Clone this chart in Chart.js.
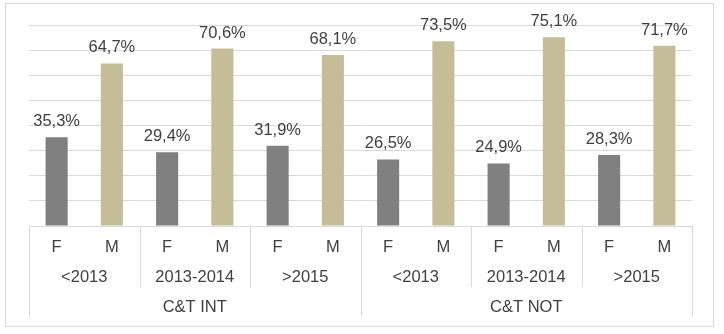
<!DOCTYPE html>
<html>
<head>
<meta charset="utf-8">
<script src="https://cdn.jsdelivr.net/npm/chart.js@4/dist/chart.umd.min.js"></script>
<style>
  html, body { margin: 0; padding: 0; background: #fff; }
  #wrap { width: 724px; height: 334px; }
</style>
</head>
<body>
<div id="wrap"><canvas id="chart" width="724" height="334"></canvas></div>
<script>
// data
var groups = ['C&T INT', 'C&T NOT'];
var periods = ['<2013', '2013-2014', '>2015', '<2013', '2013-2014', '>2015'];
var sexes = ['F', 'M'];
var fValues = [35.3, 29.4, 31.9, 26.5, 24.9, 28.3];
var mValues = [64.7, 70.6, 68.1, 73.5, 75.1, 71.7];
var yTicks = [0, 10, 20, 30, 40, 50, 60, 70, 80];

var fColor = '#808080';
var mColor = '#C4BD97';
var lineColor = '#D9D9D9';
var textColor = '#404040';
var fontFamily = '"Liberation Sans", Arial, sans-serif';
var fontSize = 16.5;

// one category per bar: F and M for each period
var labels = [];
var values = [];
var colors = [];
periods.forEach(function(p, i) {
    labels.push(sexes[0]); values.push(fValues[i]); colors.push(fColor);
    labels.push(sexes[1]); values.push(mValues[i]); colors.push(mColor);
});

var fmt = function(v) {
    return v.toFixed(1).replace('.', ',') + '%';
};

var decorPlugin = {
    id: 'decor',
    beforeDraw: function(chart) {
        var ctx = chart.ctx;
        ctx.save();
        ctx.strokeStyle = lineColor;
        ctx.lineWidth = 1;
        ctx.strokeRect(5.5, 3.5, 708, 323);
        ctx.restore();
    },
    afterDatasetsDraw: function(chart) {
        var ctx = chart.ctx;
        var x = chart.scales.x;
        var area = chart.chartArea;
        var n = labels.length;
        var half = (x.getPixelForValue(1) - x.getPixelForValue(0)) / 2;
        var edge = function(i) {
            // left edge of category i
            return x.getPixelForValue(i) - half;
        };

        ctx.save();
        ctx.font = fontSize + 'px ' + fontFamily;
        ctx.fillStyle = textColor;
        ctx.textAlign = 'center';
        ctx.textBaseline = 'alphabetic';

        // value labels above bars
        var meta = chart.getDatasetMeta(0);
        meta.data.forEach(function(bar, i) {
            ctx.fillText(fmt(values[i]), bar.x, bar.y - 11);
        });

        // F / M row
        labels.forEach(function(l, i) {
            ctx.fillText(l, x.getPixelForValue(i), 252);
        });

        // period row
        periods.forEach(function(p, i) {
            var c = (edge(i * 2) + edge(i * 2 + 2)) / 2;
            ctx.fillText(p, c, 281.5);
        });

        // group row
        var perGroup = n / groups.length;
        groups.forEach(function(g, i) {
            var c = (edge(i * perGroup) + edge((i + 1) * perGroup)) / 2;
            ctx.fillText(g, c, 312);
        });

        // category box lines
        ctx.strokeStyle = lineColor;
        ctx.lineWidth = 1;
        ctx.beginPath();
        for (var i = 0; i <= n; i += 2) {
            var px = Math.round(edge(i)) + 0.5;
            var bottom = (i % perGroup === 0) ? 317 : 287;
            ctx.moveTo(px, area.bottom);
            ctx.lineTo(px, bottom);
        }
        ctx.stroke();
        ctx.restore();
    }
};

var chart = new Chart(document.getElementById('chart').getContext('2d'), {
    type: 'bar',
    data: {
        labels: labels,
        datasets: [
            {
                data: values,
                backgroundColor: colors,
                borderWidth: 0,
                categoryPercentage: 1,
                barPercentage: 0.4
            }
        ]
    },
    options: {
        responsive: false,
        animation: false,
        layout: {
            padding: { left: 29, right: 32, top: 25, bottom: 108 }
        },
        scales: {
            x: {
                display: false
            },
            y: {
                min: yTicks[0],
                max: yTicks[yTicks.length - 1],
                ticks: { display: false, stepSize: 10 },
                grid: { color: lineColor, lineWidth: 1, drawTicks: false },
                border: { display: false }
            }
        },
        plugins: {
            legend: { display: false },
            tooltip: { enabled: false }
        }
    },
    plugins: [decorPlugin]
});
</script>
</body>
</html>
